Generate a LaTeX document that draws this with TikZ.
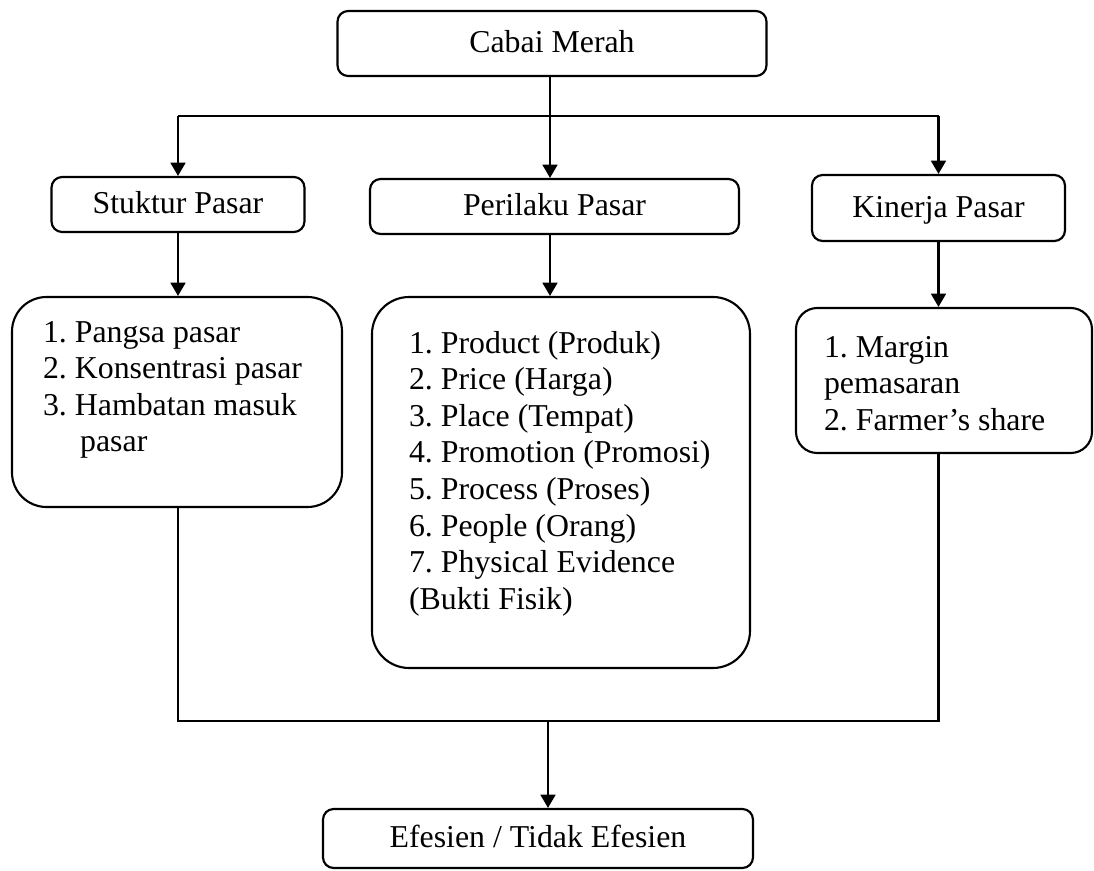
\documentclass[tikz,border=0pt]{standalone}
\usepackage{fontspec}
\setmainfont{Liberation Serif}
\usetikzlibrary{arrows.meta}
\frenchspacing

\begin{document}
\begin{tikzpicture}[x=0.377pt, y=-0.377pt, line width=0.8pt,
  every node/.style={font=\fontsize{12pt}{13.8pt}\selectfont},
  kotak/.style={draw, rounded corners=4pt, inner sep=0pt, text height=9pt, text depth=2pt},
  kotakbesar/.style={draw, rounded corners=13pt, inner sep=0pt},
  isi/.style={anchor=north west, inner sep=0pt, align=left},
  panah/.style={-{Triangle[width=5.6pt,length=5pt]}}]

% Paramètres
\def\px{0.377pt}

% Bingkai
\useasboundingbox (0,0) rectangle (1094,871);

% Kotak judul
\node[kotak, minimum width=429*\px, minimum height=65*\px] (cabai) at (552,43.5) {Cabai Merah};

% Tiga kotak tengah
\node[kotak, minimum width=253*\px, minimum height=55*\px] (stuktur) at (178,204.5) {Stuktur Pasar};
\node[kotak, minimum width=369*\px, minimum height=55*\px] (perilaku) at (554.5,206.5) {Perilaku Pasar};
\node[kotak, minimum width=253*\px, minimum height=66*\px] (kinerja) at (938.5,208) {Kinerja Pasar};

% Kotak isi
\node[kotakbesar, minimum width=330*\px, minimum height=210*\px] (strlist) at (177,402) {};
\node[isi] at (42,320) {1. Pangsa pasar\\2. Konsentrasi pasar\\3. Hambatan masuk\\\hspace*{14pt}pasar};

\node[kotakbesar, rounded corners=14pt, minimum width=378*\px, minimum height=371*\px] (prlist) at (561,482.5) {};
\node[isi] at (408,330) {1. Product (Produk)\\2. Price (Harga)\\3. Place (Tempat)\\4. Promotion (Promosi)\\5. Process (Proses)\\6. People (Orang)\\7. Physical Evidence\\(Bukti Fisik)};

\node[kotakbesar, rounded corners=8pt, minimum width=296*\px, minimum height=145*\px] (knlist) at (944,380.5) {};
\node[isi] at (823,335) {1. Margin\\pemasaran\\2. Farmer’s share};

% Kotak hasil
\node[kotak, minimum width=430*\px, minimum height=59*\px] (hasil) at (538,838.5) {Efesien / Tidak Efesien};

% Garis
\coordinate (cabang) at (550,116);
\coordinate (gabung) at (548,721);
\draw (cabai.south -| cabang) -- (cabang);
\draw (cabang -| stuktur) -- (cabang -| kinerja);
\draw[panah] (cabang -| stuktur) -- (stuktur.north);
\draw[panah] (cabang) -- (cabang |- perilaku.north);
\draw[panah] (cabang -| kinerja) -- (kinerja.north);
\draw[panah] (stuktur.south) -- (stuktur.south |- strlist.north);
\draw[panah] (perilaku.south -| cabang) -- (cabang |- prlist.north);
\draw[panah] (kinerja.south) -- (kinerja.south |- knlist.north);
\draw (stuktur.south |- strlist.south) |- (gabung) -| (kinerja.south |- knlist.south);
\draw[panah] (gabung) -- (gabung |- hasil.north);
\end{tikzpicture}
\end{document}
